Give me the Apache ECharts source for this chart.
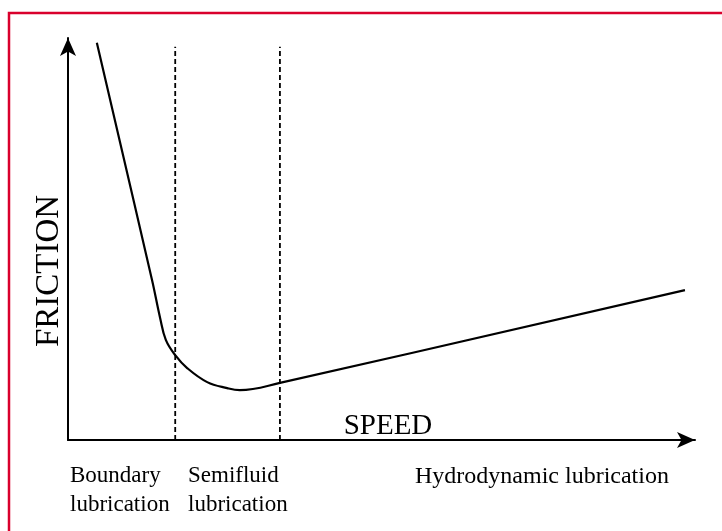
<!DOCTYPE html>
<html>
<head>
<meta charset="utf-8">
<script src="https://cdn.jsdelivr.net/npm/echarts@6/dist/echarts.min.js"></script>
<style>
  html, body { margin: 0; padding: 0; background: #fff; }
  #main { width: 722px; height: 531px; }
</style>
</head>
<body>
<div id="main"></div>
<script>
// friction vs speed (arbitrary units, 0..10 on both axes)
var speed    = [0.46, 1.34, 1.47, 1.56, 1.71, 1.90, 2.22, 2.54, 2.74, 3.38, 9.84];
var friction = [9.88, 3.98, 3.03, 2.49, 2.11, 1.79, 1.44, 1.29, 1.24, 1.42, 3.73];
// region boundaries on the speed axis, and the height of the dashed lines
var boundaries = [1.71, 3.38];
var boundaryTop = 9.78;
var regionNames = ['Boundary\nlubrication', 'Semifluid\nlubrication', 'Hydrodynamic lubrication'];
var axisNames = ['SPEED', 'FRICTION'];

var chart = echarts.init(document.getElementById('main'));

var curve = [];
for (var i = 0; i < speed.length; i++) {
  curve.push([speed[i], friction[i]]);
}

var serif = '"Liberation Serif", "DejaVu Serif", serif';
var axisStyle = {
  show: true,
  symbol: ['none', 'arrow'],
  symbolSize: [12, 18],
  lineStyle: { color: '#000', width: 2 }
};

var series = [{
  type: 'line',
  data: curve,
  smooth: 0.4,
  showSymbol: false,
  silent: true,
  lineStyle: { color: '#000', width: 2.2 }
}];
boundaries.forEach(function (b) {
  series.push({
    type: 'line',
    data: [[b, 0], [b, boundaryTop]],
    showSymbol: false,
    silent: true,
    lineStyle: { color: '#000', width: 1.8, type: [5, 3] }
  });
});

var option = {
  animation: false,
  backgroundColor: '#fff',
  grid: { left: 68, right: 27, top: 38, bottom: 91 },
  xAxis: {
    type: 'value', min: 0, max: 10,
    axisLine: axisStyle,
    axisTick: { show: false }, axisLabel: { show: false }, splitLine: { show: false }
  },
  yAxis: {
    type: 'value', min: 0, max: 10,
    axisLine: axisStyle,
    axisTick: { show: false }, axisLabel: { show: false }, splitLine: { show: false }
  },
  series: series,
  graphic: [
    {
      type: 'polyline',
      shape: { points: [[9, 531], [9, 13], [722, 13]] },
      style: { stroke: '#d9002c', lineWidth: 2.5, fill: null }
    },
    {
      type: 'text', x: 388, y: 426,
      style: { text: axisNames[0], font: '29px ' + serif, fill: '#000', align: 'center', verticalAlign: 'middle' }
    },
    {
      type: 'text', x: 49, y: 271, rotation: Math.PI / 2,
      style: { text: axisNames[1], font: '33px ' + serif, fill: '#000', align: 'center', verticalAlign: 'middle' }
    },
    {
      type: 'text', x: 70, y: 490,
      style: { text: regionNames[0], font: '23px ' + serif, lineHeight: 29, fill: '#000', align: 'left', verticalAlign: 'middle' }
    },
    {
      type: 'text', x: 188, y: 490,
      style: { text: regionNames[1], font: '23px ' + serif, lineHeight: 29, fill: '#000', align: 'left', verticalAlign: 'middle' }
    },
    {
      type: 'text', x: 415, y: 477,
      style: { text: regionNames[2], font: '24px ' + serif, fill: '#000', align: 'left', verticalAlign: 'middle' }
    }
  ]
};

chart.setOption(option);
</script>
</body>
</html>
